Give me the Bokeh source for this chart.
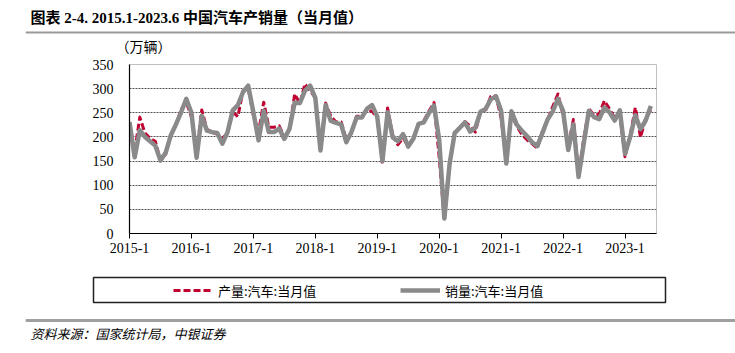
from bokeh.plotting import figure
from bokeh.models import Range1d, Label, Span, FixedTicker, Legend, LegendItem, ColumnDataSource
from bokeh.layouts import column
from bokeh.embed import file_html
from bokeh.resources import INLINE

# ---------------- data ----------------
title_text = "图表 2-4. 2015.1-2023.6 中国汽车产销量（当月值）"
unit_text = "（万辆）"
source_text = "资料来源：国家统计局，中银证券"
series_names = ["产量:汽车:当月值", "销量:汽车:当月值"]

years = [2015, 2016, 2017, 2018, 2019, 2020, 2021, 2022, 2023]
months = [f"{y}-{m}" for y in years for m in range(1, 13)][:102]
tick_labels = ["2015-1", "2016-1", "2017-1", "2018-1", "2019-1",
               "2020-1", "2021-1", "2022-1", "2023-1"]
y_ticks = [0, 50, 100, 150, 200, 250, 300, 350]

production = [
    229, 170, 241, 208, 197, 191, 151, 164, 205, 225, 257, 272,   # 2015
    241, 168, 256, 216, 210, 205, 197, 208, 252, 242, 296, 300,   # 2016
    245, 210, 272, 220, 220, 223, 200, 215, 289, 269, 310, 295,   # 2017
    282, 176, 270, 243, 231, 231, 195, 207, 243, 243, 256, 253,   # 2018
    240, 145, 260, 203, 184, 198, 181, 199, 226, 233, 253, 271,   # 2019
    157, 29, 142, 210, 219, 232, 222, 210, 252, 256, 284, 285,    # 2020
    239, 150, 246, 223, 205, 194, 186, 176, 212, 236, 263, 289,   # 2021
    245, 181, 236, 121, 196, 258, 245, 247, 275, 258, 239, 247,   # 2022
    159, 203, 261, 199, 239, 256,                                 # 2023
]
sales = [
    231, 158, 214, 200, 191, 182, 151, 167, 203, 226, 251, 279,   # 2015
    250, 157, 244, 213, 210, 208, 186, 210, 255, 266, 293, 306,   # 2016
    251, 193, 254, 210, 210, 217, 196, 217, 271, 270, 296, 306,   # 2017
    281, 172, 266, 233, 229, 226, 189, 210, 240, 240, 258, 266,   # 2018
    242, 150, 251, 199, 191, 206, 180, 196, 227, 230, 249, 265,   # 2019
    194, 31, 143, 208, 219, 230, 211, 219, 252, 258, 278, 284,    # 2020
    254, 145, 253, 226, 213, 202, 189, 181, 208, 236, 253, 279,   # 2021
    254, 173, 226, 117, 186, 254, 241, 237, 261, 251, 234, 255,   # 2022
    165, 200, 245, 216, 234, 264,                                 # 2023
]

# ---------------- styles ----------------
W = 735
RED = "#C00030"
GRAY = "#8a8a8a"
SERIF = "'Liberation Serif', 'Noto Sans CJK SC'"
CJK = "'Noto Sans CJK SC'"


def no_align(f):
    if "frame_align" in f.properties():
        f.frame_align = False
    return f


def blank(height, **kw):
    f = figure(width=W, height=height, toolbar_location=None, output_backend="svg",
               x_axis_location=None, y_axis_location=None, **kw)
    f.grid.visible = False
    f.background_fill_color = "white"
    f.border_fill_color = "white"
    return no_align(f)


x = list(range(len(months)))
src = ColumnDataSource(dict(x=x, production=production, sales=sales))

# ---- title strip ----
fa = blank(54, x_range=Range1d(25, W), y_range=Range1d(54, 0),
           min_border_left=25, min_border_right=0, min_border_top=0, min_border_bottom=0,
           outline_line_color=None)
fa.add_layout(Label(x=30, y=17, text=title_text, text_font=SERIF, text_font_size="15px",
                    text_font_style="bold", text_baseline="middle", text_color="#000000"))
fa.add_layout(Span(location=32, dimension="width", line_color="#9a9a9a", line_width=2))
fa.add_layout(Label(x=115, y=45, text=unit_text, text_font=CJK, text_font_size="14px",
                    text_baseline="middle", text_color="#000000"))

# ---- main chart ----
p = figure(width=W, height=214, x_range=Range1d(0, 102.1), y_range=Range1d(0, 350),
           toolbar_location=None, output_backend="svg",
           min_border_left=129, min_border_right=79, min_border_top=10, min_border_bottom=35)
no_align(p)
p.outline_line_color = "#c0c0c0"
p.background_fill_color = "white"
p.border_fill_color = "white"

p.line("x", "production", source=src, line_color=RED, line_width=3, line_dash="7 3",
       line_join="round")
p.line("x", "sales", source=src, line_color=GRAY, line_width=4.5, line_join="round")

tick_pos = [months.index(t) for t in tick_labels]
p.xaxis.ticker = FixedTicker(ticks=tick_pos)
p.xaxis.major_label_overrides = {pos: lab for pos, lab in zip(tick_pos, tick_labels)}
p.yaxis.ticker = FixedTicker(ticks=y_ticks)

for ax in (p.xaxis, p.yaxis):
    ax.axis_line_color = "#000000"
    ax.axis_line_width = 1.2
    ax.major_label_text_font = "Liberation Serif"
    ax.major_label_text_font_size = "14px"
    ax.major_label_text_color = "#000000"
    ax.minor_tick_line_color = None
    ax.major_tick_line_color = "#000000"
p.xaxis.major_tick_out = 5
p.xaxis.major_tick_in = 0
p.xaxis.major_label_standoff = 4
p.yaxis.major_tick_out = 0
p.yaxis.major_tick_in = 0
p.yaxis.major_label_standoff = 16

p.xgrid.visible = False
p.ygrid.grid_line_color = "#555555"
p.ygrid.grid_line_dash = "2 1"
p.ygrid.grid_line_width = 1

# ---- legend strip (frame = legend box; series lines kept out of view) ----
fl = blank(42, x_range=Range1d(-20, -10), y_range=Range1d(0, 1),
           min_border_left=93, min_border_right=70, min_border_top=9, min_border_bottom=8,
           outline_line_color="#222222", outline_line_width=1.5)
r1 = fl.line("x", "production", source=src, line_color=RED, line_width=3, line_dash="7 3")
r2 = fl.line("x", "sales", source=src, line_color=GRAY, line_width=4.5)
leg = Legend(items=[LegendItem(label=series_names[0], renderers=[r1]),
                    LegendItem(label=series_names[1], renderers=[r2])],
             orientation="horizontal", location=(80, 2), padding=0, margin=0,
             spacing=42, glyph_width=40, glyph_height=20, label_height=20,
             label_standoff=5, label_width=140, border_line_color=None,
             background_fill_alpha=0, label_text_font=CJK, label_text_font_size="13px",
             label_text_color="#000000")
fl.add_layout(leg)

# ---- source strip ----
fs = blank(43, x_range=Range1d(25, W), y_range=Range1d(43, 0),
           min_border_left=25, min_border_right=0, min_border_top=0, min_border_bottom=0,
           outline_line_color=None)
fs.add_layout(Span(location=10, dimension="width", line_color="#a0a0a0", line_width=3))
fs.add_layout(Label(x=30, y=23, text=source_text, text_font=CJK, text_font_size="13px",
                    text_font_style="italic", text_baseline="middle", text_color="#000000"))

layout = column(fa, p, fl, fs, spacing=0)
open("out.html", "w").write(file_html(layout, INLINE))
